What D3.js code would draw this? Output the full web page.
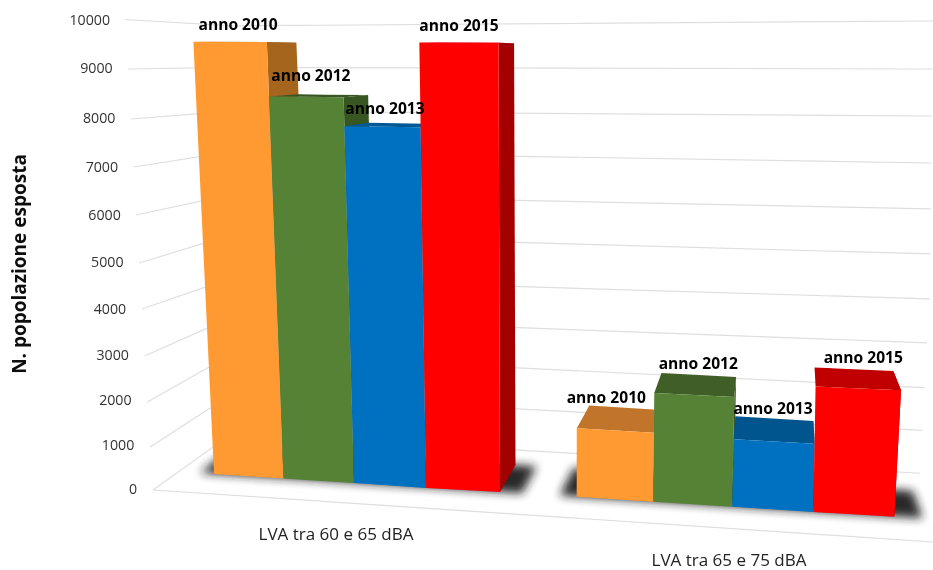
<!DOCTYPE html>
<html>
<head>
<meta charset="utf-8">
<script src="https://cdn.jsdelivr.net/npm/d3@7"></script>
<style>
html,body{margin:0;padding:0;background:#fff;}
svg{display:block;}
text{font-family:"Open Sans",sans-serif;}
</style>
</head>
<body>
<svg id="chart" width="933" height="570"></svg>
<script>
// ---------- data ----------
const categories = ["LVA tra 60 e 65 dBA", "LVA tra 65 e 75 dBA"];
const seriesNames = ["anno 2010", "anno 2012", "anno 2013", "anno 2015"];
const values60to65 = [9500, 8315, 7690, 9500];
const values65to75 = [1315, 2070, 1275, 2345];
const yTicks = [0, 1000, 2000, 3000, 4000, 5000, 6000, 7000, 8000, 9000, 10000];
const yAxisTitle = "N. popolazione esposta";

// ---------- colours ----------
const frontColors = ["#FF9933", "#548235", "#0070C0", "#FF0000"];
const sideColors  = ["#A5651F", "#375623", "#005A96", "#A40000"];
const topColorsNear = ["#C1752A", "#415F28", "#00558F", "#C00000"];

// ---------- perspective layout (scales) ----------
const W = 933, H = 570;
const slots = [0, 1, 2, 3, 4];
const vFrac = d3.scaleLinear().domain([0, 10000]).range([0, 1]);

const groups = [
  {
    name: categories[0], values: values60to65, topColors: sideColors,
    xBase: d3.scaleLinear().domain(slots).range([214, 283.5, 354, 426, 500]),
    xTop:  d3.scaleLinear().domain(slots).range([192.3, 266, 341.5, 419, 498.5]),
    yBase: d3.scaleLinear().domain(slots).range([474, 478.5, 483, 488, 492]),
    yTop:  d3.scaleLinear().domain(slots).range([19, 19, 19, 19, 19]),
    depthX: d3.scaleLinear().domain(slots).range([33, 29.5, 24.5, 20, 15.5]),
    depthY: d3.scaleLinear().domain([0, 0.77, 0.95]).range([-27, -3.4, 0.5]),
    labelDx: [8, 4.6, 2.5, 0], labelDy: [-17, -21, -18.5, -17],
    shadowT: [-0.2, 4.3],
    catX: 336, catY: 540
  },
  {
    name: categories[1], values: values65to75, topColors: topColorsNear,
    xBase: d3.scaleLinear().domain(slots).range([576.7, 653.3, 732.3, 813.3, 894.3]),
    xTop:  d3.scaleLinear().domain(slots).range([577, 658, 742, 823, 923]),
    yBase: d3.scaleLinear().domain(slots).range([496.7, 501.7, 506.7, 512, 516.7]),
    yTop:  d3.scaleLinear().domain(slots).range([-23, -23, -23, -23, -23]),
    depthX: d3.scaleLinear().domain(slots).range([12.6, 7.2, 1.8, -1, -7.7]),
    depthY: d3.scaleLinear().domain([0, 1]).range([-27.5, 8.5]),
    labelDx: [-9, 4, -1, 5], labelDy: [-33, -32, -33, -31],
    shadowT: [-0.22, 4.35],
    catX: 729, catY: 566
  }
];

function front(g, t, v) {
  const k = vFrac(v);
  return [
    g.xBase(t) + (g.xTop(t) - g.xBase(t)) * k,
    g.yBase(t) + (g.yTop(t) - g.yBase(t)) * k
  ];
}
function back(g, t, v) {
  const p = front(g, t, v);
  return [p[0] + g.depthX(t), p[1] + g.depthY(vFrac(v))];
}

// wall and floor gridline scales
const tickY  = d3.scaleLinear().domain(yTicks).range([490, 447, 402, 356, 309, 263, 215, 167, 119, 69, 19.5]);
const tickX  = d3.scaleLinear().domain([0, 10000]).range([153, 125]);
const labelX = d3.scaleLinear().domain([0, 10000]).range([137, 110]);
const labelY = d3.scaleLinear().domain(yTicks).range([489, 445, 400, 355, 309, 262, 215, 167, 118, 68, 20]);
const wallY500 = d3.scaleLinear().domain(yTicks).range([449, 408, 367, 327, 286, 242, 200, 156, 113, 68, 24]);
const wallY933 = d3.scaleLinear().domain(yTicks).range([474, 431, 388, 343, 299, 254, 209, 163, 116, 69, 21]);
const wallEnd  = d3.scaleLinear().domain([0, 3000, 4000, 10000]).range([920, 927, 930, 933]);
const cornerX = 232;
const wallAt = v => d3.scaleLinear().domain([500, 933]).range([wallY500(v), wallY933(v)]);
const floorFront = d3.scaleLinear().domain([153, 933]).range([490, 542]);

// ---------- drawing ----------
const svg = d3.select("#chart").attr("viewBox", [0, 0, W, H]);
const defs = svg.append("defs");
defs.append("filter").attr("id", "soft").attr("filterUnits", "userSpaceOnUse")
  .attr("x", 0).attr("y", 0).attr("width", W).attr("height", H)
  .append("feGaussianBlur").attr("stdDeviation", 0.45);
defs.append("filter").attr("id", "shadow").attr("filterUnits", "userSpaceOnUse")
  .attr("x", 0).attr("y", 0).attr("width", W).attr("height", H)
  .append("feGaussianBlur").attr("stdDeviation", 5);

const poly = d3.line();
const root = svg.append("g").attr("filter", "url(#soft)");

// gridlines
const grid = root.append("g").attr("fill", "none").attr("stroke", "#dedede").attr("stroke-width", 1.2);
grid.selectAll("path.grid").data(yTicks).join("path").attr("class", "grid")
  .attr("d", v => {
    const w = wallAt(v);
    return poly([[tickX(v), tickY(v)], [cornerX, w(cornerX)], [wallEnd(v), w(wallEnd(v))]]);
  });
grid.append("path").attr("d", poly([[153, floorFront(153)], [933, floorFront(933)]]));

// tick labels
root.append("g").selectAll("text").data(yTicks).join("text")
  .attr("x", labelX).attr("y", labelY).attr("dy", "0.36em")
  .attr("text-anchor", "end").attr("font-size", 14.2).attr("fill", "#333")
  .text(d => d);

// axis title
root.append("text")
  .attr("transform", "translate(26,264) rotate(-90)")
  .attr("text-anchor", "middle").attr("font-size", 19).attr("font-weight", 700).attr("fill", "#111")
  .text(yAxisTitle);

// floor shadows
root.append("g").selectAll("path").data(groups).join("path")
  .attr("d", g => poly([
    front(g, g.shadowT[0], 0), front(g, g.shadowT[1], 0),
    back(g, g.shadowT[1], 0), back(g, g.shadowT[0], 0)
  ]) + "Z")
  .attr("fill", "#1e1e1e").attr("opacity", 0.95).attr("filter", "url(#shadow)");

// bars
groups.forEach(g => {
  const layer = root.append("g");
  const bars = layer.selectAll("g.bar").data(g.values).join("g").attr("class", "bar");
  bars.append("path")
    .attr("d", (v, i) => poly([front(g, i + 1, v), back(g, i + 1, v), back(g, i + 1, 0), front(g, i + 1, 0)]) + "Z")
    .attr("fill", (v, i) => sideColors[i]);
  bars.append("path")
    .attr("d", (v, i) => poly([front(g, i, v), back(g, i, v), back(g, i + 1, v), front(g, i + 1, v)]) + "Z")
    .attr("fill", (v, i) => g.topColors[i]);
  bars.append("path")
    .attr("d", (v, i) => poly([front(g, i, 0), front(g, i + 1, 0), front(g, i + 1, v), front(g, i, v)]) + "Z")
    .attr("fill", (v, i) => frontColors[i]);

  // value labels
  layer.selectAll("text.series").data(g.values).join("text").attr("class", "series")
    .attr("x", (v, i) => (front(g, i, v)[0] + front(g, i + 1, v)[0]) / 2 + g.labelDx[i])
    .attr("y", (v, i) => (front(g, i, v)[1] + front(g, i + 1, v)[1]) / 2 + g.labelDy[i])
    .attr("dy", "0.36em").attr("text-anchor", "middle")
    .attr("font-size", 15.6).attr("font-weight", 700).attr("fill", "#000")
    .text((v, i) => seriesNames[i]);

  // category label
  root.append("text").attr("x", g.catX).attr("y", g.catY)
    .attr("text-anchor", "middle").attr("font-size", 17).attr("fill", "#222")
    .text(g.name);
});
</script>
</body>
</html>
